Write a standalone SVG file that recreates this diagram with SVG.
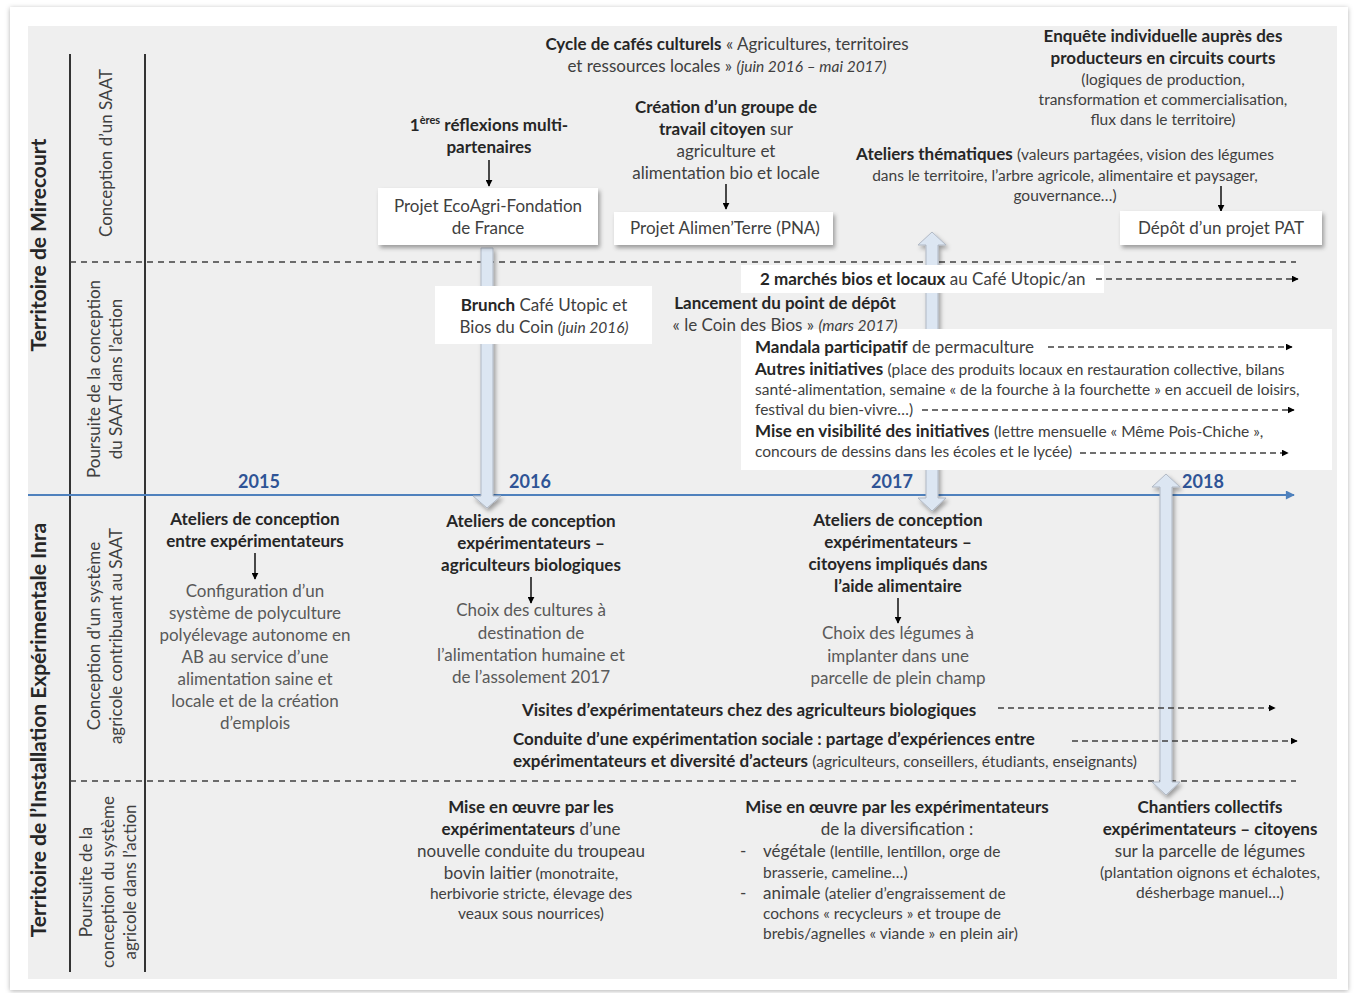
<svg xmlns="http://www.w3.org/2000/svg" width="1357" height="993" viewBox="0 0 1357 993">
<defs>
<style>
text{font-family:Lato,"Liberation Sans",sans-serif;font-size:17px;fill:#404040}
.b{font-weight:bold;fill:#262626}
.g{fill:#595959}
.s{font-size:15.5px}
.i{font-style:italic;font-size:15.5px}
.m{text-anchor:middle}
.yr{font-weight:bold;font-size:18px;fill:#2f5496;text-anchor:middle}
.big{font-weight:bold;font-size:21px;fill:#262626;text-anchor:middle}
.sep{stroke:#404040;stroke-width:1.5;stroke-dasharray:6 5;fill:none}
.da{stroke:#404040;stroke-width:1.4;stroke-dasharray:6 4;fill:none;marker-end:url(#ah)}
.ar{stroke:#000;stroke-width:1.4;fill:none;marker-end:url(#ah)}
.box{fill:#fff}
.bar{fill:#dce6f2;stroke:#b0b8c4;stroke-width:1}
</style>
<marker id="ah" viewBox="0 0 10 10" refX="9" refY="5" markerWidth="7" markerHeight="7" orient="auto" markerUnits="userSpaceOnUse"><path d="M0,0 L10,5 L0,10 z" fill="#000"/></marker>
<marker id="bh" viewBox="0 0 10 10" refX="9" refY="5" markerWidth="10" markerHeight="9" orient="auto" markerUnits="userSpaceOnUse"><path d="M0,0 L10,5 L0,10 z" fill="#4f81bd"/></marker>
<filter id="sh" x="-10%" y="-20%" width="130%" height="160%"><feDropShadow dx="2" dy="3" stdDeviation="2" flood-color="#000" flood-opacity="0.35"/></filter>
<filter id="ps" x="-5%" y="-5%" width="110%" height="110%"><feDropShadow dx="0" dy="1" stdDeviation="2.5" flood-color="#000" flood-opacity="0.3"/></filter>
</defs>
<rect width="1357" height="993" fill="#fff"/>
<rect x="10" y="7" width="1338" height="983" fill="#fff" filter="url(#ps)"/>
<rect x="28" y="26" width="1309" height="953" fill="#efefef"/>

<g id="frame">
<line x1="70" y1="54" x2="70" y2="972" stroke="#333" stroke-width="2"/>
<line x1="145" y1="54" x2="145" y2="972" stroke="#333" stroke-width="2"/>
</g>

<g id="labels">
<text class="big" transform="translate(46,245) rotate(-90)">Territoire de Mirecourt</text>
<text class="big" transform="translate(46,730) rotate(-90)">Territoire de l’Installation Expérimentale Inra</text>
<text class="m" transform="translate(112,153) rotate(-90)">Conception d’un SAAT</text>
<text class="m" transform="translate(100,379) rotate(-90)">Poursuite de la conception</text>
<text class="m" transform="translate(122,379) rotate(-90)">du SAAT dans l’action</text>
<text class="m" transform="translate(100,636) rotate(-90)">Conception d’un système</text>
<text class="m" transform="translate(122,636) rotate(-90)">agricole contribuant au SAAT</text>
<text class="m" transform="translate(92,882) rotate(-90)">Poursuite de la</text>
<text class="m" transform="translate(114,882) rotate(-90)">conception du système</text>
<text class="m" transform="translate(136,882) rotate(-90)">agricole dans l’action</text>
</g>

<g id="connectors">
<line class="sep" x1="70" y1="262" x2="1296" y2="262"/>
<line class="sep" x1="70" y1="781" x2="1296" y2="781"/>
<line x1="28" y1="495" x2="1294" y2="495" stroke="#4f81bd" stroke-width="2" marker-end="url(#bh)"/>
<path class="bar" filter="url(#sh)" d="M481,248 H493 V496 H501 L487,508 L473,496 H481 Z"/>
<path class="bar" filter="url(#sh)" d="M932,232 L946,245 H938 V498 H946 L932,511 L918,498 H926 V245 H918 Z"/>
<path class="bar" filter="url(#sh)" d="M1166,474 L1180,487 H1172 V782 H1180 L1166,795 L1152,782 H1160 V487 H1152 Z"/>
<line class="ar" x1="489" y1="160" x2="489" y2="186"/>
<line class="ar" x1="726" y1="184" x2="726" y2="209"/>
<line class="ar" x1="1221" y1="186" x2="1221" y2="211"/>
<line class="ar" x1="255" y1="553" x2="255" y2="579"/>
<line class="ar" x1="531" y1="577" x2="531" y2="603"/>
<line class="ar" x1="898" y1="598" x2="898" y2="623"/>
</g>

<g id="years">
<text class="yr" x="259" y="488">2015</text>
<text class="yr" x="530" y="488">2016</text>
<text class="yr" x="892" y="488">2017</text>
<text class="yr" x="1203" y="488">2018</text>
</g>

<g id="cafes">
<text class="m" x="727" y="50"><tspan class="b">Cycle de cafés culturels</tspan> « Agricultures, territoires</text>
<text class="m" x="727" y="72">et ressources locales » <tspan class="i">(juin 2016 – mai 2017)</tspan></text>
</g>

<g id="reflexions">
<text class="m b" x="489" y="131">1<tspan font-size="11" dy="-7">ères</tspan><tspan dy="7"> réflexions multi-</tspan></text>
<text class="m b" x="489" y="153">partenaires</text>
</g>

<g id="ecoagri">
<rect class="box" x="378" y="188" width="220" height="57" filter="url(#sh)"/>
<text class="m" x="488" y="212">Projet EcoAgri-Fondation</text>
<text class="m" x="488" y="234">de France</text>
</g>

<g id="groupe">
<text class="m b" x="726" y="113">Création d’un groupe de</text>
<text class="m" x="726" y="135"><tspan class="b">travail citoyen</tspan> sur</text>
<text class="m" x="726" y="157">agriculture et</text>
<text class="m" x="726" y="179">alimentation bio et locale</text>
</g>

<g id="alimenterre">
<rect class="box" x="614" y="212" width="219" height="33" filter="url(#sh)"/>
<text class="m" x="725" y="234">Projet Alimen’Terre (PNA)</text>
</g>

<g id="enquete">
<text class="m b" x="1163" y="42">Enquête individuelle auprès des</text>
<text class="m b" x="1163" y="64">producteurs en circuits courts</text>
<text class="m s" x="1163" y="85">(logiques de production,</text>
<text class="m s" x="1163" y="105">transformation et commercialisation,</text>
<text class="m s" x="1163" y="125">flux dans le territoire)</text>
</g>

<g id="ateliers-thematiques">
<text class="m" x="1065" y="160"><tspan class="b">Ateliers thématiques</tspan> <tspan class="s">(valeurs partagées, vision des légumes</tspan></text>
<text class="m s" x="1065" y="181">dans le territoire, l’arbre agricole, alimentaire et paysager,</text>
<text class="m s" x="1065" y="201">gouvernance…)</text>
</g>

<g id="pat">
<rect class="box" x="1120" y="211" width="202" height="34" filter="url(#sh)"/>
<text class="m" x="1221" y="234">Dépôt d’un projet PAT</text>
</g>

<g id="brunch">
<rect class="box" x="435" y="286" width="217" height="58"/>
<text class="m" x="544" y="311"><tspan class="b">Brunch</tspan> Café Utopic et</text>
<text class="m" x="544" y="333">Bios du Coin <tspan class="i">(juin 2016)</tspan></text>
</g>

<g id="marches">
<rect class="box" x="741" y="265" width="363" height="28"/>
<text x="760" y="285"><tspan class="b">2 marchés bios et locaux</tspan> au Café Utopic/an</text>
<line class="da" x1="1096" y1="279" x2="1298" y2="279"/>
</g>

<g id="initiatives">
<rect class="box" x="741" y="329" width="591" height="141"/>
<text x="755" y="353"><tspan class="b">Mandala participatif</tspan> de permaculture</text>
<line class="da" x1="1048" y1="347" x2="1292" y2="347"/>
<text x="755" y="375"><tspan class="b">Autres initiatives</tspan> <tspan class="s">(place des produits locaux en restauration collective, bilans</tspan></text>
<text class="s" x="755" y="395">santé-alimentation, semaine « de la fourche à la fourchette » en accueil de loisirs,</text>
<text class="s" x="755" y="415">festival du bien-vivre…)</text>
<line class="da" x1="922" y1="410" x2="1294" y2="410"/>
<text x="755" y="437"><tspan class="b">Mise en visibilité des initiatives</tspan> <tspan class="s">(lettre mensuelle « Même Pois-Chiche »,</tspan></text>
<text class="s" x="755" y="457">concours de dessins dans les écoles et le lycée)</text>
<line class="da" x1="1080" y1="453" x2="1288" y2="453"/>
</g>

<g id="depot">
<text class="m b" x="785" y="309">Lancement du point de dépôt</text>
<text class="m" x="785" y="331">« le Coin des Bios » <tspan class="i">(mars 2017)</tspan></text>
</g>

<g id="atelier-2015">
<text class="m b" x="255" y="525">Ateliers de conception</text>
<text class="m b" x="255" y="547">entre expérimentateurs</text>
<text class="m g" x="255" y="597">Configuration d’un</text>
<text class="m g" x="255" y="619">système de polyculture</text>
<text class="m g" x="255" y="641">polyélevage autonome en</text>
<text class="m g" x="255" y="663">AB au service d’une</text>
<text class="m g" x="255" y="685">alimentation saine et</text>
<text class="m g" x="255" y="707">locale et de la création</text>
<text class="m g" x="255" y="729">d’emplois</text>
</g>

<g id="atelier-2016">
<text class="m b" x="531" y="527">Ateliers de conception</text>
<text class="m b" x="531" y="549">expérimentateurs –</text>
<text class="m b" x="531" y="571">agriculteurs biologiques</text>
<text class="m g" x="531" y="616">Choix des cultures à</text>
<text class="m g" x="531" y="639">destination de</text>
<text class="m g" x="531" y="661">l’alimentation humaine et</text>
<text class="m g" x="531" y="683">de l’assolement 2017</text>
</g>

<g id="atelier-2017">
<text class="m b" x="898" y="526">Ateliers de conception</text>
<text class="m b" x="898" y="548">expérimentateurs –</text>
<text class="m b" x="898" y="570">citoyens impliqués dans</text>
<text class="m b" x="898" y="592">l’aide alimentaire</text>
<text class="m g" x="898" y="639">Choix des légumes à</text>
<text class="m g" x="898" y="662">implanter dans une</text>
<text class="m g" x="898" y="684">parcelle de plein champ</text>
</g>

<g id="visites">
<text class="b" x="522" y="716">Visites d’expérimentateurs chez des agriculteurs biologiques</text>
<line class="da" x1="998" y1="708" x2="1275" y2="708"/>
</g>

<g id="conduite">
<text class="b" x="513" y="745">Conduite d’une expérimentation sociale : partage d’expériences entre</text>
<line class="da" x1="1072" y1="741" x2="1297" y2="741"/>
<text x="513" y="767"><tspan class="b">expérimentateurs et diversité d’acteurs</tspan> <tspan class="s">(agriculteurs, conseillers, étudiants, enseignants)</tspan></text>
</g>

<g id="troupeau">
<text class="m b" x="531" y="813">Mise en œuvre par les</text>
<text class="m" x="531" y="835"><tspan class="b">expérimentateurs</tspan> d’une</text>
<text class="m" x="531" y="857">nouvelle conduite du troupeau</text>
<text class="m" x="531" y="879">bovin laitier <tspan class="s">(monotraite,</tspan></text>
<text class="m s" x="531" y="899">herbivorie stricte, élevage des</text>
<text class="m s" x="531" y="919">veaux sous nourrices)</text>
</g>

<g id="diversification">
<text class="m b" x="897" y="813">Mise en œuvre par les expérimentateurs</text>
<text class="m" x="897" y="835">de la diversification :</text>
<text x="740" y="857">-</text>
<text x="763" y="857">végétale <tspan class="s">(lentille, lentillon, orge de</tspan></text>
<text class="s" x="763" y="878">brasserie, cameline…)</text>
<text x="740" y="899">-</text>
<text x="763" y="899">animale <tspan class="s">(atelier d’engraissement de</tspan></text>
<text class="s" x="763" y="919">cochons « recycleurs » et troupe de</text>
<text class="s" x="763" y="939">brebis/agnelles « viande » en plein air)</text>
</g>

<g id="chantiers">
<text class="m b" x="1210" y="813">Chantiers collectifs</text>
<text class="m b" x="1210" y="835">expérimentateurs – citoyens</text>
<text class="m" x="1210" y="857">sur la parcelle de légumes</text>
<text class="m s" x="1210" y="878">(plantation oignons et échalotes,</text>
<text class="m s" x="1210" y="898">désherbage manuel…)</text>
</g>
</svg>
